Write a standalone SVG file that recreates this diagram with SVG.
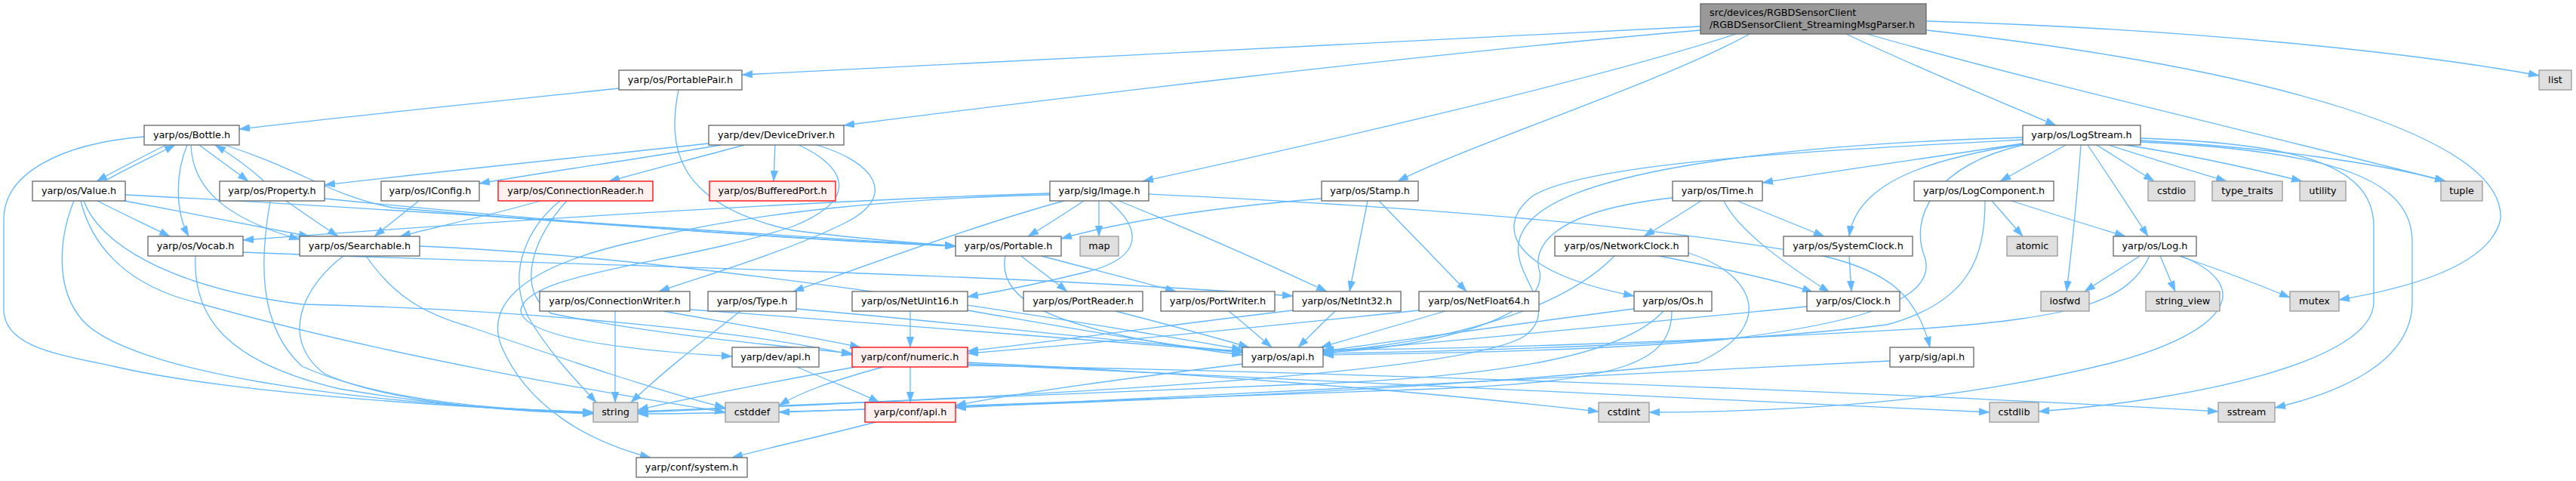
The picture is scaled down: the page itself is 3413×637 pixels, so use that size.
<svg xmlns="http://www.w3.org/2000/svg" width="3413" height="637" viewBox="0 0 3413 637">
<style>
.n rect{fill:#ffffff;stroke:#666666;stroke-width:1.3}
.g rect{fill:#e0e0e0;stroke:#999999;stroke-width:1.3}
.r rect{fill:#fff0f0;stroke:#ff0000;stroke-width:1.3}
.m rect{fill:#999999;stroke:#666666;stroke-width:1.3}
text{font-family:"DejaVu Sans","Liberation Sans",sans-serif;font-size:12.8px;fill:#000000;text-anchor:middle}
.m text{text-anchor:start}
#edges path{fill:none;stroke:#63b8ff;stroke-width:1.3;marker-end:url(#ah)}
</style>
<defs>
<marker id="ah" markerUnits="userSpaceOnUse" markerWidth="14" markerHeight="10" viewBox="0 0 13 9" refX="13" refY="4.5" orient="auto">
<path d="M0,0 L13,4.5 L0,9 z" fill="#63b8ff" stroke="#63b8ff" stroke-width="0.5"/>
</marker>
</defs>
<rect x="0" y="0" width="3413" height="637" fill="#ffffff"/>
<g id="edges">
<path d="M2253,35 C1800,57 1300,85 983,99"/>
<path d="M2253,40 C1900,70 1400,130 1118,166"/>
<path d="M2300,45 C2100,110 1700,200 1514,240"/>
<path d="M2318,45 C2200,110 1950,190 1852,240"/>
<path d="M2446,45 C2530,85 2650,135 2724,166"/>
<path d="M2553,28 C2900,38 3200,70 3364,100"/>
<path d="M2553,40 C3000,90 3320,180 3313,290 C3300,350 3200,380 3099,397"/>
<path d="M2474,45 C2700,110 3050,190 3240,240"/>
<path d="M820,117 C650,135 450,155 317,171"/>
<path d="M899,119 C885,190 890,270 1050,305 C1150,318 1220,322 1266,326"/>
<path d="M191,181 C80,190 5,230 5,290 L5,410 C5,460 80,470 150,485 C300,520 600,540 786,546"/>
<path d="M220,192 C190,207 155,225 128,240"/>
<path d="M138,240 C170,222 205,206 232,192"/>
<path d="M248,192 C232,230 232,280 250,313"/>
<path d="M253,192 C255,250 300,290 397,317"/>
<path d="M264,192 C285,208 308,224 329,240"/>
<path d="M350,240 C330,222 310,207 285,192"/>
<path d="M298,192 C400,225 440,260 520,275 C800,300 1100,318 1266,326"/>
<path d="M129,266 C160,282 195,298 225,313"/>
<path d="M165,266 C250,282 330,298 410,313"/>
<path d="M166,258 C500,275 1000,310 1266,326"/>
<path d="M98,266 C80,310 70,380 110,425 C170,490 450,535 786,546"/>
<path d="M111,266 C130,320 220,380 400,403 C700,410 1000,440 1129,470"/>
<path d="M107,266 C120,320 160,370 240,395 C500,470 800,520 961,546"/>
<path d="M358,266 C345,340 340,430 400,485 C500,530 650,543 786,546"/>
<path d="M379,266 C402,282 425,298 448,313"/>
<path d="M430,263 C700,290 1000,315 1266,326"/>
<path d="M555,266 C535,282 515,298 496,313"/>
<path d="M939,190 C800,205 600,225 430,245"/>
<path d="M955,192 C850,210 720,228 635,243"/>
<path d="M986,192 C920,210 860,225 807,240"/>
<path d="M1027,192 C1026,208 1026,224 1025,240"/>
<path d="M1058,192 C1110,215 1150,260 1050,300 C900,350 700,360 690,410 C690,450 850,465 970,472"/>
<path d="M1082,192 C1160,215 1190,260 1120,295 C1050,330 950,360 873,386"/>
<path d="M716,266 C650,285 580,300 530,313"/>
<path d="M742,266 C700,300 670,360 700,420 C730,470 760,500 790,533"/>
<path d="M751,266 C710,310 680,380 730,415 C850,440 1000,455 1129,468"/>
<path d="M815,412 C815,450 815,490 815,533"/>
<path d="M879,412 C980,430 1080,447 1140,460"/>
<path d="M914,410 C1200,430 1500,455 1646,466"/>
<path d="M981,412 C920,460 870,500 836,533"/>
<path d="M1055,409 C1300,430 1500,455 1646,465"/>
<path d="M1056,486 C1100,505 1140,520 1165,533"/>
<path d="M1391,256 C1100,265 700,290 322,318"/>
<path d="M1391,258 C1200,262 1000,280 850,318 C700,350 640,400 665,460 C700,540 780,585 862,606"/>
<path d="M1436,266 C1412,282 1387,298 1362,313"/>
<path d="M1456,266 C1456,282 1456,298 1456,313"/>
<path d="M1469,266 C1510,300 1520,340 1440,360 C1380,375 1330,385 1282,393"/>
<path d="M1482,266 C1580,305 1680,350 1758,386"/>
<path d="M1522,257 C1900,275 2200,300 2420,340 C2500,360 2540,390 2557,460"/>
<path d="M1410,266 C1320,290 1150,350 1051,386"/>
<path d="M1751,263 C1600,275 1480,295 1406,316"/>
<path d="M1812,266 C1804,306 1796,346 1788,386"/>
<path d="M1827,266 C1866,306 1905,346 1943,386"/>
<path d="M1353,339 C1373,355 1394,370 1414,386"/>
<path d="M1380,339 C1440,355 1500,370 1558,386"/>
<path d="M1332,339 C1320,400 1400,440 1646,470"/>
<path d="M1478,412 C1540,428 1600,444 1655,460"/>
<path d="M1628,412 C1648,428 1666,444 1685,460"/>
<path d="M1206,412 C1206,428 1206,444 1206,460"/>
<path d="M1282,411 C1450,440 1560,460 1646,467"/>
<path d="M1713,411 C1550,430 1400,452 1282,465"/>
<path d="M1769,412 C1752,428 1736,444 1720,460"/>
<path d="M1880,411 C1700,430 1450,455 1282,468"/>
<path d="M1915,412 C1860,428 1805,444 1750,460"/>
<path d="M1206,486 C1206,502 1206,518 1206,533"/>
<path d="M1133,486 C1000,510 900,530 845,543"/>
<path d="M1170,486 C1100,505 1060,520 1032,537"/>
<path d="M1282,480 C1600,495 1900,520 2118,545"/>
<path d="M1282,482 C1800,505 2300,530 2636,546"/>
<path d="M1282,484 C1900,495 2600,525 2939,545"/>
<path d="M1646,482 C1500,500 1350,520 1266,537"/>
<path d="M1160,559 C1100,575 1030,590 970,606"/>
<path d="M322,334 C700,350 1300,360 1713,392"/>
<path d="M259,339 C255,420 300,480 450,515 C600,540 700,545 786,547"/>
<path d="M556,326 C900,340 1400,420 1646,463"/>
<path d="M455,339 C400,380 370,450 430,495 C520,535 680,545 786,548"/>
<path d="M485,339 C520,390 560,415 620,432 C760,480 880,520 961,540"/>
<path d="M2254,266 C2229,282 2203,298 2178,313"/>
<path d="M2302,266 C2340,282 2380,298 2417,313"/>
<path d="M2284,266 C2300,300 2350,340 2424,387"/>
<path d="M2216,262 C2050,280 2030,330 2040,360 C2050,420 1900,460 1753,467"/>
<path d="M2198,339 C2280,355 2360,372 2402,387"/>
<path d="M2139,339 C2080,400 1950,450 1753,466"/>
<path d="M2237,335 C2320,360 2360,430 2250,480 C1800,530 1000,548 845,548"/>
<path d="M2450,339 C2451,355 2452,370 2453,386"/>
<path d="M2394,406 C2200,425 1950,450 1753,466"/>
<path d="M2165,409 C2000,430 1850,452 1753,465"/>
<path d="M2204,412 C2150,470 2000,500 1700,510 C1300,525 1000,540 845,545"/>
<path d="M2215,412 C2215,480 2150,505 1900,515 C1500,530 1200,540 1032,546"/>
<path d="M2680,190 C2550,210 2420,228 2335,242"/>
<path d="M2680,191 C2560,210 2460,240 2450,313"/>
<path d="M2680,192 C2560,220 2530,290 2550,340 C2570,400 2450,430 2280,450 C2100,465 1900,468 1753,470"/>
<path d="M2680,182 C2400,190 2100,220 2030,290 C1970,350 2080,400 2020,445 C1950,490 1500,520 845,546"/>
<path d="M2680,185 C2400,200 2100,215 2030,260 C1980,300 2000,360 2165,392"/>
<path d="M2737,192 C2708,208 2679,224 2650,240"/>
<path d="M2757,192 C2752,260 2745,330 2738,386"/>
<path d="M2766,192 C2793,232 2820,273 2846,313"/>
<path d="M2778,192 C2803,208 2829,224 2854,240"/>
<path d="M2794,192 C2850,210 2900,225 2950,240"/>
<path d="M2816,192 C2900,205 2990,225 3050,240"/>
<path d="M2836,186 C3000,195 3150,215 3240,240"/>
<path d="M2836,183 C3050,190 3145,220 3145,300 L3145,400 C3145,480 2900,530 2701,545"/>
<path d="M2836,188 C3100,200 3196,240 3196,320 L3196,400 C3196,480 3100,520 3014,540"/>
<path d="M2665,266 C2715,282 2766,298 2816,313"/>
<path d="M2639,266 C2653,282 2667,298 2680,313"/>
<path d="M2630,266 C2630,340 2610,400 2500,430 C2300,455 1950,465 1753,468"/>
<path d="M2835,339 C2811,355 2786,370 2762,386"/>
<path d="M2848,339 C2820,400 2750,420 2550,435 C2200,455 1900,463 1753,463"/>
<path d="M2862,339 C2869,355 2875,370 2882,386"/>
<path d="M2887,339 C2950,360 3000,380 3034,394"/>
<path d="M2890,339 C2990,380 2950,440 2800,480 C2600,530 2400,545 2185,546"/>
<path d="M2504,478 C2000,500 1500,530 1266,540"/>
</g>
<g id="n_main" class="m"><rect x="2253" y="5" width="299" height="40"/><text x="2265" y="21">src/devices/RGBDSensorClient</text><text x="2265" y="37">/RGBDSensorClient_StreamingMsgParser.h</text></g>
<g id="n_PortablePair" class="n"><rect x="820" y="93" width="163" height="26"/><text x="901.5" y="110">yarp/os/PortablePair.h</text></g>
<g id="n_list" class="g"><rect x="3364" y="93" width="43" height="26"/><text x="3385.5" y="110">list</text></g>
<g id="n_Bottle" class="n"><rect x="191" y="166" width="126" height="26"/><text x="254" y="183">yarp/os/Bottle.h</text></g>
<g id="n_DeviceDriver" class="n"><rect x="939" y="166" width="179" height="26"/><text x="1028.5" y="183">yarp/dev/DeviceDriver.h</text></g>
<g id="n_LogStream" class="n"><rect x="2680" y="166" width="156" height="26"/><text x="2758" y="183">yarp/os/LogStream.h</text></g>
<g id="n_Value" class="n"><rect x="43" y="240" width="123" height="26"/><text x="104.5" y="257">yarp/os/Value.h</text></g>
<g id="n_Property" class="n"><rect x="291" y="240" width="139" height="26"/><text x="360.5" y="257">yarp/os/Property.h</text></g>
<g id="n_IConfig" class="n"><rect x="505" y="240" width="130" height="26"/><text x="570" y="257">yarp/os/IConfig.h</text></g>
<g id="n_ConnectionReader" class="r"><rect x="660" y="240" width="205" height="26"/><text x="762.5" y="257">yarp/os/ConnectionReader.h</text></g>
<g id="n_BufferedPort" class="r"><rect x="940" y="240" width="167" height="26"/><text x="1023.5" y="257">yarp/os/BufferedPort.h</text></g>
<g id="n_Image" class="n"><rect x="1391" y="240" width="131" height="26"/><text x="1456.5" y="257">yarp/sig/Image.h</text></g>
<g id="n_Stamp" class="n"><rect x="1751" y="240" width="128" height="26"/><text x="1815" y="257">yarp/os/Stamp.h</text></g>
<g id="n_Time" class="n"><rect x="2216" y="240" width="119" height="26"/><text x="2275.5" y="257">yarp/os/Time.h</text></g>
<g id="n_LogComponent" class="n"><rect x="2536" y="240" width="185" height="26"/><text x="2628.5" y="257">yarp/os/LogComponent.h</text></g>
<g id="n_cstdio" class="g"><rect x="2846" y="240" width="62" height="26"/><text x="2877" y="257">cstdio</text></g>
<g id="n_type_traits" class="g"><rect x="2931" y="240" width="93" height="26"/><text x="2977.5" y="257">type_traits</text></g>
<g id="n_utility" class="g"><rect x="3047" y="240" width="61" height="26"/><text x="3077.5" y="257">utility</text></g>
<g id="n_tuple" class="g"><rect x="3234" y="240" width="55" height="26"/><text x="3261.5" y="257">tuple</text></g>
<g id="n_Vocab" class="n"><rect x="196" y="313" width="126" height="26"/><text x="259" y="330">yarp/os/Vocab.h</text></g>
<g id="n_Searchable" class="n"><rect x="397" y="313" width="159" height="26"/><text x="476.5" y="330">yarp/os/Searchable.h</text></g>
<g id="n_Portable" class="n"><rect x="1266" y="313" width="140" height="26"/><text x="1336" y="330">yarp/os/Portable.h</text></g>
<g id="n_map" class="g"><rect x="1431" y="313" width="51" height="26"/><text x="1456.5" y="330">map</text></g>
<g id="n_NetworkClock" class="n"><rect x="2060" y="313" width="177" height="26"/><text x="2148.5" y="330">yarp/os/NetworkClock.h</text></g>
<g id="n_SystemClock" class="n"><rect x="2363" y="313" width="171" height="26"/><text x="2448.5" y="330">yarp/os/SystemClock.h</text></g>
<g id="n_atomic" class="g"><rect x="2659" y="313" width="67" height="26"/><text x="2692.5" y="330">atomic</text></g>
<g id="n_Log" class="n"><rect x="2800" y="313" width="110" height="26"/><text x="2855" y="330">yarp/os/Log.h</text></g>
<g id="n_ConnectionWriter" class="n"><rect x="715" y="386" width="199" height="26"/><text x="814.5" y="403">yarp/os/ConnectionWriter.h</text></g>
<g id="n_Type" class="n"><rect x="938" y="386" width="117" height="26"/><text x="996.5" y="403">yarp/os/Type.h</text></g>
<g id="n_NetUint16" class="n"><rect x="1129" y="386" width="153" height="26"/><text x="1205.5" y="403">yarp/os/NetUint16.h</text></g>
<g id="n_PortReader" class="n"><rect x="1356" y="386" width="158" height="26"/><text x="1435" y="403">yarp/os/PortReader.h</text></g>
<g id="n_PortWriter" class="n"><rect x="1538" y="386" width="151" height="26"/><text x="1613.5" y="403">yarp/os/PortWriter.h</text></g>
<g id="n_NetInt32" class="n"><rect x="1713" y="386" width="143" height="26"/><text x="1784.5" y="403">yarp/os/NetInt32.h</text></g>
<g id="n_NetFloat64" class="n"><rect x="1880" y="386" width="159" height="26"/><text x="1959.5" y="403">yarp/os/NetFloat64.h</text></g>
<g id="n_Os" class="n"><rect x="2165" y="386" width="103" height="26"/><text x="2216.5" y="403">yarp/os/Os.h</text></g>
<g id="n_Clock" class="n"><rect x="2394" y="386" width="123" height="26"/><text x="2455.5" y="403">yarp/os/Clock.h</text></g>
<g id="n_iosfwd" class="g"><rect x="2704" y="386" width="64" height="26"/><text x="2736" y="403">iosfwd</text></g>
<g id="n_string_view" class="g"><rect x="2843" y="386" width="98" height="26"/><text x="2892" y="403">string_view</text></g>
<g id="n_mutex" class="g"><rect x="3034" y="386" width="65" height="26"/><text x="3066.5" y="403">mutex</text></g>
<g id="n_devapi" class="n"><rect x="970" y="460" width="115" height="26"/><text x="1027.5" y="477">yarp/dev/api.h</text></g>
<g id="n_numeric" class="r"><rect x="1129" y="460" width="153" height="26"/><text x="1205.5" y="477">yarp/conf/numeric.h</text></g>
<g id="n_osapi" class="n"><rect x="1646" y="460" width="107" height="26"/><text x="1699.5" y="477">yarp/os/api.h</text></g>
<g id="n_sigapi" class="n"><rect x="2504" y="460" width="111" height="26"/><text x="2559.5" y="477">yarp/sig/api.h</text></g>
<g id="n_string" class="g"><rect x="786" y="533" width="59" height="26"/><text x="815.5" y="550">string</text></g>
<g id="n_cstddef" class="g"><rect x="961" y="533" width="71" height="26"/><text x="996.5" y="550">cstddef</text></g>
<g id="n_confapi" class="r"><rect x="1146" y="533" width="120" height="26"/><text x="1206" y="550">yarp/conf/api.h</text></g>
<g id="n_cstdint" class="g"><rect x="2118" y="533" width="67" height="26"/><text x="2151.5" y="550">cstdint</text></g>
<g id="n_cstdlib" class="g"><rect x="2636" y="533" width="65" height="26"/><text x="2668.5" y="550">cstdlib</text></g>
<g id="n_sstream" class="g"><rect x="2939" y="533" width="75" height="26"/><text x="2976.5" y="550">sstream</text></g>
<g id="n_system" class="n"><rect x="843" y="606" width="147" height="26"/><text x="916.5" y="623">yarp/conf/system.h</text></g>
</svg>
